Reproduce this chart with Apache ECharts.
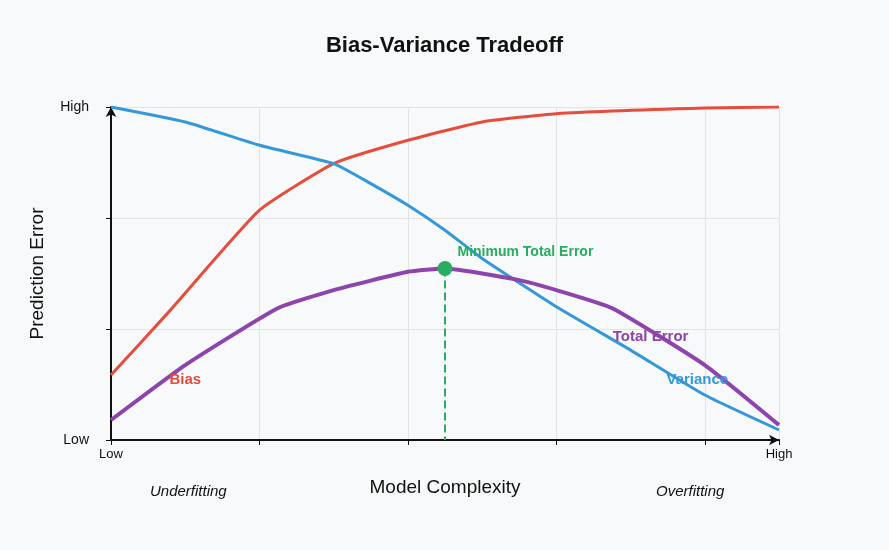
<!DOCTYPE html>
<html>
<head>
<meta charset="utf-8">
<script src="https://cdn.jsdelivr.net/npm/echarts@6/dist/echarts.min.js"></script>
<style>html,body{margin:0;padding:0;background:#f8f9fa}#chart{width:889px;height:550px}</style>
</head>
<body>
<div id="chart"></div>
<script>
// model complexity positions (0 = low, 9 = high), error on 0..10
let biasData = [[0,1.95],[0.8,3.9],[2,6.9],[3,8.3],[4,9.0],[5,9.55],[6,9.8],[8,9.97],[9,10]];
let varianceData = [[0,10],[1,9.55],[2,8.85],[3,8.3],[3.5,7.7],[4,7.05],[4.5,6.3],[5,5.45],[6,4.0],[7,2.7],[8,1.35],[9,0.3]];
let totalData = [[0,0.6],[1,2.25],[2.24,3.95],[3,4.5],[4,5.05],[4.5,5.15],[5.5,4.8],[6,4.5],[6.76,3.95],[8,2.25],[9,0.45]];
let minPoint = [4.5, 5.15];

let myChart = echarts.init(document.getElementById('chart'));

function tag(text, coord, color, size){
    return {
        coord: coord, symbolSize: 0,
        label: {show: true, formatter: text, color: color, fontWeight: 'bold', fontSize: size || 14, fontFamily: 'Liberation Sans'}
    };
}

let option = {
    backgroundColor: '#f8f9fa',
    title: {
        text: 'Bias-Variance Tradeoff', left: 'center', top: 30,
        textStyle: {fontSize: 22, fontWeight: 'bold', color: '#111', fontFamily: 'Liberation Sans'}
    },
    grid: {left: 111, right: 110, top: 107, bottom: 110},
    xAxis: {
        type: 'value', min: 0, max: 9, interval: 2,
        name: 'Model Complexity', nameLocation: 'middle', nameGap: 38,
        nameTextStyle: {fontSize: 19, color: '#111', fontFamily: 'Liberation Sans'},
        axisLine: {lineStyle: {color: '#111', width: 2}, symbol: ['none', 'arrow'], symbolSize: [8, 10]},
        axisTick: {show: true, lineStyle: {color: '#111'}},
        splitLine: {lineStyle: {color: '#e3e3e3'}},
        axisLabel: {
            color: '#111', fontSize: 13, showMinLabel: true, showMaxLabel: true,
            formatter: v => v === 0 ? 'Low' : (v === 9 ? 'High' : '')
        }
    },
    yAxis: {
        type: 'value', min: 0, max: 10, interval: 10/3,
        name: 'Prediction Error', nameLocation: 'middle', nameGap: 64,
        nameTextStyle: {fontSize: 19, color: '#111', fontFamily: 'Liberation Sans'},
        axisLine: {show: true, lineStyle: {color: '#111', width: 2}, symbol: ['none', 'arrow'], symbolSize: [8, 10]},
        axisTick: {show: true, lineStyle: {color: '#111'}},
        splitLine: {lineStyle: {color: '#e3e3e3'}},
        axisLabel: {
            color: '#111', fontSize: 14, margin: 22,
            formatter: v => v === 0 ? 'Low' : (v === 10 ? 'High' : '')
        }
    },
    graphic: [
        {type: 'text', left: 150, top: 484, style: {text: 'Underfitting', fontSize: 15, fontStyle: 'italic', fill: '#111', fontFamily: 'Liberation Sans'}},
        {type: 'text', left: 656, top: 484, style: {text: 'Overfitting', fontSize: 15, fontStyle: 'italic', fill: '#111', fontFamily: 'Liberation Sans'}}
    ],
    series: [
        {
            name: 'Bias', type: 'line', smooth: 0.15, symbol: 'none',
            lineStyle: {width: 3, color: '#e74c3c'}, data: biasData,
            markPoint: {data: [tag('Bias', [1, 1.8], '#e74c3c', 15)]}
        },
        {
            name: 'Variance', type: 'line', smooth: 0.15, symbol: 'none',
            lineStyle: {width: 3, color: '#3498db'}, data: varianceData,
            markPoint: {data: [tag('Variance', [7.9, 1.8], '#3498db', 15)]}
        },
        {
            name: 'Total Error', type: 'line', smooth: 0.15, symbol: 'none',
            lineStyle: {width: 4, color: '#8e44ad'}, data: totalData,
            markPoint: {data: [tag('Total Error', [7.27, 3.1], '#8e44ad', 15)]}
        },
        {
            name: 'Minimum', type: 'scatter', symbolSize: 15,
            itemStyle: {color: '#27ae60', opacity: 1}, data: [minPoint], z: 5,
            label: {show: true, position: 'right', offset: [0, -16], formatter: 'Minimum Total Error',
                color: '#27ae60', fontWeight: 'bold', fontSize: 14, fontFamily: 'Liberation Sans'},
            markLine: {
                symbol: 'none', silent: true,
                lineStyle: {color: '#27ae60', type: 'dashed', width: 2, opacity: 1},
                label: {show: false},
                data: [[{coord: [minPoint[0], minPoint[1]]}, {coord: [minPoint[0], 0]}]]
            }
        }
    ]
};
myChart.setOption(option);
</script>
</body>
</html>
